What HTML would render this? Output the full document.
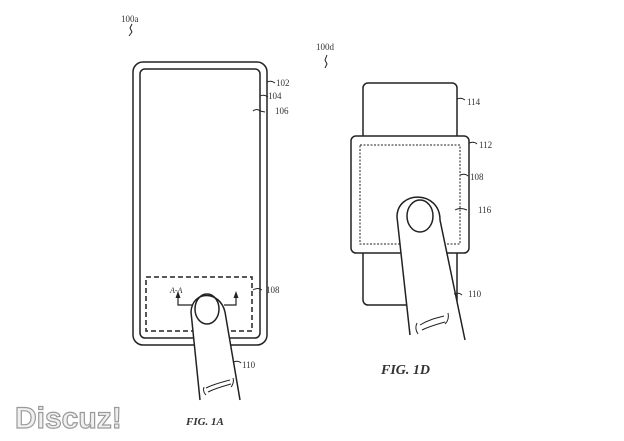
<!DOCTYPE html>
<html><head><meta charset="utf-8"><style>
html,body{margin:0;padding:0;background:#fff;}
svg{display:block;}
text{font-family:"Liberation Serif",serif;fill:#333;}
</style></head><body>
<svg width="624" height="441" viewBox="0 0 624 441" xmlns="http://www.w3.org/2000/svg">
<g fill="none" stroke="#222" stroke-width="1.5">
<rect x="133" y="62" width="134" height="283" rx="10"/>
<rect x="140" y="69" width="120" height="269" rx="5"/>
<rect x="146" y="277" width="106" height="54" stroke-dasharray="5,3"/>
<path d="M178 296 V305 H192 M236 296 V305 H224" stroke-width="1.2"/>
<path d="M175.5 298 L178 291 L180.5 298 Z M233.5 298 L236 291 L238.5 298 Z" fill="#222" stroke="none"/>
<path d="M200 402 L191 312 C192 290 220 290 225 312 L241 402 Z" fill="#fff" stroke="none"/>
<path d="M200 400 L191 312 C192 290 220 290 225 312 L240 400"/>
<ellipse cx="207" cy="309" rx="12" ry="15"/>
<path d="M206 388 C214 384 222 382 230 380 M208 392 C216 388 224 386 231 384 M204 387 C203 390 204 393 206 395 M233 378 C234 381 233 385 231 387" stroke-width="1"/>
<path d="M267 82 q4 -2 8 1 M260 96 q4 -2 8 1 M253 111 q4 -3 7 0 l5 1 M253 290 q5 -3 9 0 M233 362 q5 -2 8 1 M129 36 l3 -4 -2 -4 2 -4" stroke-width="1"/>
<rect x="363" y="83" width="94" height="60" rx="5"/>
<rect x="363" y="245" width="94" height="60" rx="5"/>
<rect x="351" y="136" width="118" height="117" rx="5" fill="#fff"/>
<rect x="360" y="145" width="100" height="99" stroke-dasharray="2,1.5" stroke-width="1"/>
<path d="M410 337 L397 217 C397 190 440 190 440 220 L466 342 Z" fill="#fff" stroke="none"/>
<path d="M410 335 L397 217 C397 190 440 190 440 220 L465 340"/>
<ellipse cx="420" cy="216" rx="13" ry="16"/>
<path d="M420 325 C428 320 436 318 444 316 M422 330 C430 326 438 324 445 322 M417 323 C415 327 416 331 418 334 M448 313 C449 317 448 321 445 324" stroke-width="1"/>
<path d="M457 99 q4 -2 8 1 M469 143 q5 -2 8 1 M460 175 q5 -2 8 1 M455 210 q5 -3 12 0 M454 294 q5 -2 8 1 M325 68 l2 -4 -2 -4 2 -5" stroke-width="1"/>
</g>
<g font-size="9">
<text x="121" y="22">100a</text>
<text x="170" y="293" font-size="8" font-style="italic">A-A</text>
<text x="276" y="86">102</text>
<text x="268" y="99">104</text>
<text x="275" y="114">106</text>
<text x="266" y="293">108</text>
<text x="242" y="368">110</text>
<text x="316" y="50">100d</text>
<text x="467" y="105">114</text>
<text x="479" y="148">112</text>
<text x="470" y="180">108</text>
<text x="478" y="213">116</text>
<text x="468" y="297">110</text>
</g>
<text x="186" y="425" font-size="11" font-style="italic" font-weight="bold">FIG. 1A</text>
<text x="381" y="374" font-size="14" font-style="italic" font-weight="bold">FIG. 1D</text>
<text x="15" y="428" font-size="30" font-weight="bold" style="font-family:'Liberation Sans',sans-serif;fill:#f0f0f0;stroke:#9a9a9a;stroke-width:1.2">Discuz!</text>
</svg>
</body></html>
